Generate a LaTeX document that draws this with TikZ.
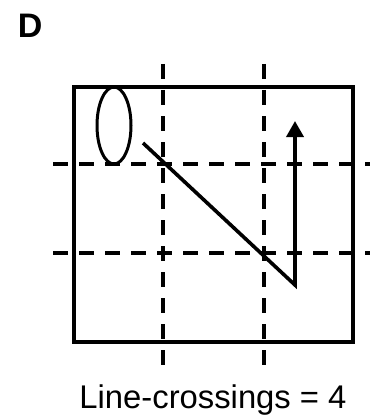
\documentclass[tikz,border=0pt]{standalone}
\usepackage{fontspec}
\setmainfont{Liberation Sans}
\usetikzlibrary{arrows.meta}

\begin{document}
\begin{tikzpicture}[x=1pt, y=-1pt, line width=3.6pt,
  gridline/.style={dash pattern=on 15pt off 11pt, line width=3.4pt},
  pathline/.style={line width=3.6pt, -{Triangle[width=17pt,length=16pt]}}]
\useasboundingbox (0,0) rectangle (372,417);

% panel letter
\node[font=\bfseries\fontsize{34}{34}\selectfont, anchor=base west, inner sep=0] (panel) at (16,38) {D};

% dashed grid lines
\draw[gridline] (163,64) -- (163,375);
\draw[gridline] (264,64) -- (264,375);
\draw[gridline] (53,164) -- (370,164);
\draw[gridline] (53,253) -- (370,253);

% box and start cue
\draw (74,87) rectangle (353,342);
\draw[line width=3pt] (114,125.5) ellipse (17 and 38.5);

% movement path
\coordinate (start) at (143,143);
\coordinate (turn) at (295,285);
\coordinate (goal) at (295,121);
\draw[pathline] (start) -- (turn) -- (goal);

% caption
\node[anchor=base, font=\fontsize{32.8}{34}\selectfont, inner sep=0] (caption) at (213,408) {Line-crossings = 4};
\end{tikzpicture}
\end{document}
